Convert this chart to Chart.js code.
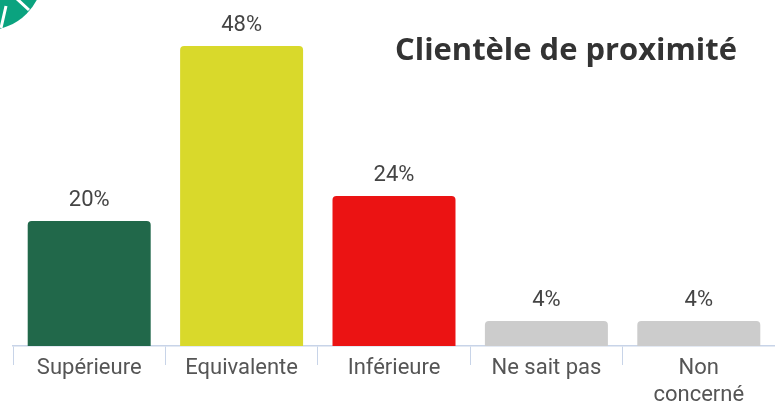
<!DOCTYPE html>
<html lang="fr">
<head>
<meta charset="utf-8">
<title>Clientèle de proximité</title>
<script src="https://cdn.jsdelivr.net/npm/chart.js@4"></script>
<style>
  html, body { margin: 0; padding: 0; background: #fff; }
  #wrap { position: relative; width: 775px; height: 404px; }
</style>
</head>
<body>
<div id="wrap"><canvas id="chart" width="775" height="404"></canvas></div>
<script>
// Données
const categories = ['Supérieure', 'Equivalente', 'Inférieure', 'Ne sait pas', ['Non', 'concerné']];
const values = [20, 48, 24, 4, 4];
const barColors = ['#21684a', '#d9d92b', '#eb1313', '#cccccc', '#cccccc'];
const chartTitle = 'Clientèle de proximité';

// Logo vert partiel en haut à gauche
const logoPlugin = {
    id: 'logo',
    afterDraw(chart) {
        const ctx = chart.ctx;
        ctx.save();
        ctx.beginPath();
        ctx.arc(-14, -27, 57.5, 0, Math.PI * 2);
        ctx.fillStyle = '#0aa37f';
        ctx.fill();
        ctx.strokeStyle = '#ffffff';
        ctx.lineWidth = 3;
        ctx.beginPath();
        ctx.moveTo(16, -2);
        ctx.lineTo(29, 10);
        ctx.moveTo(6, 6);
        ctx.lineTo(1, 28);
        ctx.stroke();
        ctx.restore();
    }
};

// Étiquettes de valeur et titre
const labelPlugin = {
    id: 'valueLabels',
    afterDatasetsDraw(chart) {
        const ctx = chart.ctx;
        const meta = chart.getDatasetMeta(0);
        ctx.save();
        ctx.font = '22px Roboto, "Liberation Sans", sans-serif';
        ctx.fillStyle = '#444444';
        ctx.textAlign = 'center';
        ctx.textBaseline = 'middle';
        meta.data.forEach((bar, i) => {
            ctx.fillText(values[i] + '%', bar.x, bar.y - 21);
        });
        ctx.font = 'bold 31px "Open Sans", Lato, sans-serif';
        ctx.fillStyle = '#333333';
        ctx.fillText(chartTitle, 566, 51, 342);
        ctx.restore();
    }
};

const ctx = document.getElementById('chart').getContext('2d');
new Chart(ctx, {
    type: 'bar',
    data: {
        labels: categories,
        datasets: [{
            data: values,
            backgroundColor: barColors,
            borderRadius: { topLeft: 4, topRight: 4 },
            borderSkipped: 'bottom',
            categoryPercentage: 1,
            barPercentage: 0.807
        }]
    },
    options: {
        responsive: false,
        animation: false,
        layout: { padding: { left: 13, right: 0, top: 10, bottom: 0 } },
        plugins: {
            legend: { display: false },
            tooltip: { enabled: false }
        },
        scales: {
            x: {
                afterFit(scale) {
                    scale.height = 58;
                },
                grid: {
                    offset: true,
                    drawOnChartArea: false,
                    drawTicks: true,
                    tickLength: 19,
                    color: '#c8d4e8'
                },
                border: { display: true, color: '#c8d4e8', width: 1.5 },
                ticks: {
                    color: '#555555',
                    padding: -10,
                    maxRotation: 0,
                    autoSkip: false,
                    font: { family: 'Roboto, "Liberation Sans", sans-serif', size: 22, lineHeight: 1.23 }
                }
            },
            y: {
                display: false,
                min: 0,
                max: 53.76
            }
        }
    },
    plugins: [logoPlugin, labelPlugin]
});
</script>
</body>
</html>
